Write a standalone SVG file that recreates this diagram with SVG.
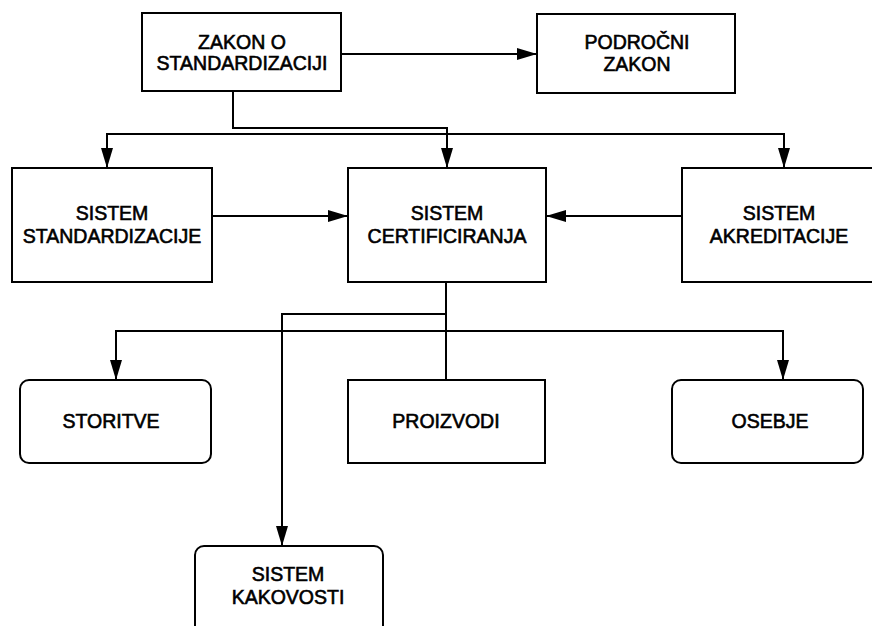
<svg xmlns="http://www.w3.org/2000/svg" width="872" height="626" viewBox="0 0 872 626">
<defs>
<marker id="ah" markerWidth="20" markerHeight="12" refX="20" refY="6" orient="auto" markerUnits="userSpaceOnUse">
<path d="M0,0 L20,6 L0,12 Z" fill="#000"/>
</marker>
<style>
.box{fill:#fff;stroke:#000;stroke-width:2}
.ln{fill:none;stroke:#000;stroke-width:2}
.t{font-family:"Liberation Sans",Arial,sans-serif;font-size:19.5px;text-anchor:middle;fill:#000;stroke:#000;stroke-width:0.6}
</style>
</defs>
<rect width="872" height="626" fill="#fff"/>
<g id="connectors">
<line class="ln" x1="341" y1="54" x2="537" y2="54" marker-end="url(#ah)"/>
<polyline class="ln" points="233,91 233,128 447,128 447,168" marker-end="url(#ah)"/>
<polyline class="ln" points="107,168 107,134 784,134 784,168" marker-end="url(#ah)"/>
<line class="ln" x1="107" y1="134" x2="107" y2="168" marker-end="url(#ah)"/>
<line class="ln" x1="212" y1="216" x2="348" y2="216" marker-end="url(#ah)"/>
<line class="ln" x1="682" y1="216" x2="546" y2="216" marker-end="url(#ah)"/>
<line class="ln" x1="446" y1="282" x2="446" y2="380"/>
<polyline class="ln" points="446,314 282,314 282,546" marker-end="url(#ah)"/>
<polyline class="ln" points="116,380 116,331 783,331 783,380" marker-end="url(#ah)"/>
<line class="ln" x1="116" y1="331" x2="116" y2="380" marker-end="url(#ah)"/>
</g>
<g id="zakon">
<rect class="box" x="142" y="13" width="199" height="78"/>
<text class="t" x="242" y="49">ZAKON O</text>
<text class="t" x="242" y="70">STANDARDIZACIJI</text>
</g>
<g id="podrocni">
<rect class="box" x="537" y="14" width="198" height="79"/>
<text class="t" x="637" y="49">PODROČNI</text>
<text class="t" x="637" y="71">ZAKON</text>
</g>
<g id="standardizacija">
<rect class="box" x="12" y="168" width="200" height="114"/>
<text class="t" x="112" y="220">SISTEM</text>
<text class="t" x="112" y="243">STANDARDIZACIJE</text>
</g>
<g id="certificiranje">
<rect class="box" x="348" y="168" width="198" height="114"/>
<text class="t" x="447" y="220">SISTEM</text>
<text class="t" x="447" y="243">CERTIFICIRANJA</text>
</g>
<g id="akreditacija">
<rect class="box" x="682" y="168" width="200" height="114"/>
<text class="t" x="779" y="220">SISTEM</text>
<text class="t" x="779" y="243">AKREDITACIJE</text>
</g>
<g id="storitve">
<rect class="box" x="20" y="380" width="191" height="83" rx="9"/>
<text class="t" x="111" y="428">STORITVE</text>
</g>
<g id="proizvodi">
<rect class="box" x="348" y="380" width="197" height="83"/>
<text class="t" x="446" y="428">PROIZVODI</text>
</g>
<g id="osebje">
<rect class="box" x="672" y="380" width="191" height="83" rx="9"/>
<text class="t" x="770" y="428">OSEBJE</text>
</g>
<g id="kakovost">
<rect class="box" x="195" y="546" width="188" height="90" rx="9"/>
<text class="t" x="288" y="581">SISTEM</text>
<text class="t" x="288" y="604">KAKOVOSTI</text>
</g>
</svg>
